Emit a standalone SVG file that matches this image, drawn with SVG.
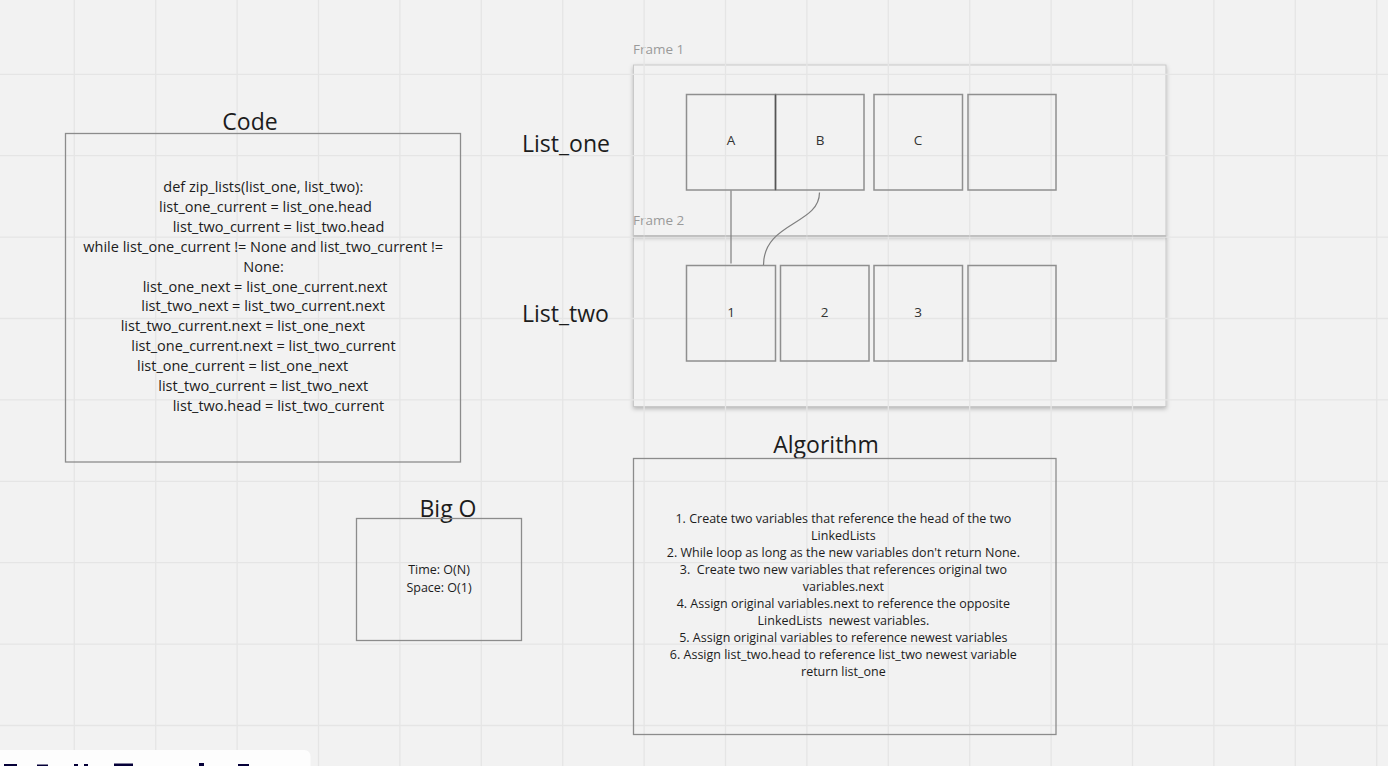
<svg xmlns="http://www.w3.org/2000/svg" width="1388" height="766" viewBox="0 0 1388 766">
<style>
.t{font-family:"Open Sans","Noto Sans","Liberation Sans",sans-serif;fill:#1c1c1c}
.title{font-size:23px}
.code{font-size:14.5px}
.small{font-size:12.5px;text-anchor:middle}
.lbl{font-size:13.5px;text-anchor:middle;fill:#333}
.frame-lbl{font-family:"Open Sans","Noto Sans","Liberation Sans",sans-serif;font-size:13.5px;fill:#9a9a9a}
.box{fill:none;stroke:#8c8c8c;stroke-width:1.3}
.cell{fill:none;stroke:#8f8f8f;stroke-width:1.5}
.grid{stroke:#e5e5e5;stroke-width:1.3;fill:none}
.conn{fill:none;stroke:#7f7f7f;stroke-width:1.2}
.frame{fill:#f2f2f2;stroke:#c9c9c9;stroke-width:1}
</style>
<defs>
<filter id="sh" x="-5%" y="-10%" width="110%" height="125%">
<feDropShadow dx="0" dy="2" stdDeviation="2" flood-color="#000" flood-opacity="0.25"/>
</filter>
</defs>
<rect x="0" y="0" width="1388" height="766" fill="#f2f2f2"/>

<g id="frame2">
<rect class="frame" x="633.5" y="236" width="532.5" height="170.5" filter="url(#sh)"/>
</g>
<g id="frame1">
<rect class="frame" x="633.5" y="65" width="532.5" height="170.5" filter="url(#sh)"/>
<text class="frame-lbl" x="633" y="54">Frame 1</text>
</g>
<text class="frame-lbl" x="633" y="225">Frame 2</text>

<path class="grid" d="M74.3 0V766M155.7 0V766M237.1 0V766M318.5 0V766M399.9 0V766M481.3 0V766M562.7 0V766M644.1 0V766M725.5 0V766M806.9 0V766M888.3 0V766M969.7 0V766M1051.1 0V766M1132.5 0V766M1213.9 0V766M1295.3 0V766M1376.7 0V766M0 74.3H1388M0 155.7H1388M0 237.1H1388M0 318.5H1388M0 399.9H1388M0 481.3H1388M0 562.7H1388M0 644.1H1388M0 725.5H1388"/>
<line x1="633.5" y1="236" x2="1166" y2="236" stroke="#b8b8b8" stroke-width="1.2"/>

<g id="label-list-one"><text class="t title" x="522" y="152">List_one</text></g>
<g id="label-list-two"><text class="t title" x="522" y="322">List_two</text></g>

<g id="node-A"><rect class="cell" x="686.5" y="94.5" width="89" height="95.5"/><text class="t lbl" x="731" y="145">A</text></g>
<g id="node-B"><rect class="cell" x="775.5" y="94.5" width="88.5" height="95.5"/><text class="t lbl" x="820" y="145">B</text></g>
<line x1="775.5" y1="94.5" x2="775.5" y2="190" stroke="#555" stroke-width="1.3"/>
<g id="node-C"><rect class="cell" x="874" y="94.5" width="88.5" height="95.5"/><text class="t lbl" x="918" y="145">C</text></g>
<g id="node-empty1"><rect class="cell" x="968" y="94.5" width="88" height="95.5"/></g>

<g id="node-1"><rect class="cell" x="686.5" y="265.5" width="89" height="95.5"/><text class="t lbl" x="731" y="317">1</text></g>
<g id="node-2"><rect class="cell" x="780.5" y="265.5" width="88.5" height="95.5"/><text class="t lbl" x="824.5" y="317">2</text></g>
<g id="node-3"><rect class="cell" x="874" y="265.5" width="88.5" height="95.5"/><text class="t lbl" x="918" y="317">3</text></g>
<g id="node-empty2"><rect class="cell" x="968" y="265.5" width="88" height="95.5"/></g>

<g id="connectors">
<line class="conn" x1="731" y1="190.5" x2="731" y2="263.5"/>
<path class="conn" d="M819.5 192.5C819.5 225 763.5 222 763.5 265"/>
</g>

<g id="code">
<text class="t title" x="250" y="130" text-anchor="middle">Code</text>
<rect class="box" x="65.5" y="133.5" width="395" height="328.5"/>
<text class="t code">
<tspan x="163.3" y="192.3">def zip_lists(list_one, list_two):</tspan>
<tspan x="159" y="212.2">list_one_current = list_one.head</tspan>
<tspan x="172.7" y="232">list_two_current = list_two.head</tspan>
<tspan x="83.3" y="251.9">while list_one_current != None and list_two_current !=</tspan>
<tspan x="243.3" y="271.7">None:</tspan>
<tspan x="142.7" y="291.6">list_one_next = list_one_current.next</tspan>
<tspan x="141.3" y="311.4">list_two_next = list_two_current.next</tspan>
<tspan x="120.7" y="331.3">list_two_current.next = list_one_next</tspan>
<tspan x="131.3" y="351.1">list_one_current.next = list_two_current</tspan>
<tspan x="137" y="371">list_one_current = list_one_next</tspan>
<tspan x="158.3" y="390.8">list_two_current = list_two_next</tspan>
<tspan x="172.7" y="410.7">list_two.head = list_two_current</tspan>
</text>
</g>

<g id="bigo">
<text class="t title" x="448" y="517" text-anchor="middle">Big O</text>
<rect class="box" x="356.5" y="518.5" width="165" height="122"/>
<text class="t small"><tspan x="439" y="574">Time: O(N)</tspan><tspan x="439" y="592">Space: O(1)</tspan></text>
</g>

<g id="algorithm">
<text class="t title" x="826" y="452.5" text-anchor="middle">Algorithm</text>
<rect class="box" x="633.5" y="458.5" width="422.5" height="276" stroke-width="1.6"/>
<text class="t small" xml:space="preserve">
<tspan x="845" y="523.3">1. Create two variables that reference the head of the two</tspan>
<tspan x="845" y="540.2">LinkedLists</tspan>
<tspan x="845" y="557.2">2. While loop as long as the new variables don't return None.</tspan>
<tspan x="845" y="574.1">3.  Create two new variables that references original two</tspan>
<tspan x="845" y="591">variables.next</tspan>
<tspan x="845" y="608">4. Assign original variables.next to reference the opposite</tspan>
<tspan x="845" y="624.9">LinkedLists  newest variables.</tspan>
<tspan x="845" y="641.8">5. Assign original variables to reference newest variables</tspan>
<tspan x="845" y="658.8">6. Assign list_two.head to reference list_two newest variable</tspan>
<tspan x="845" y="675.7">return list_one</tspan>
</text>
</g>

<g id="toolbar">
<rect x="-8" y="750" width="318.5" height="30" rx="6" fill="#fdfdfd"/>
<g fill="#050038">
<rect x="4" y="764" width="13" height="2"/>
<rect x="37" y="764.5" width="11" height="1.5"/>
<rect x="74" y="764" width="4" height="2"/><rect x="84" y="764" width="4" height="2"/>
<rect x="114" y="763.5" width="19" height="2.5"/>
<rect x="199" y="763" width="5" height="3"/>
<rect x="238" y="764" width="11" height="2"/>
</g>
</g>
</svg>
